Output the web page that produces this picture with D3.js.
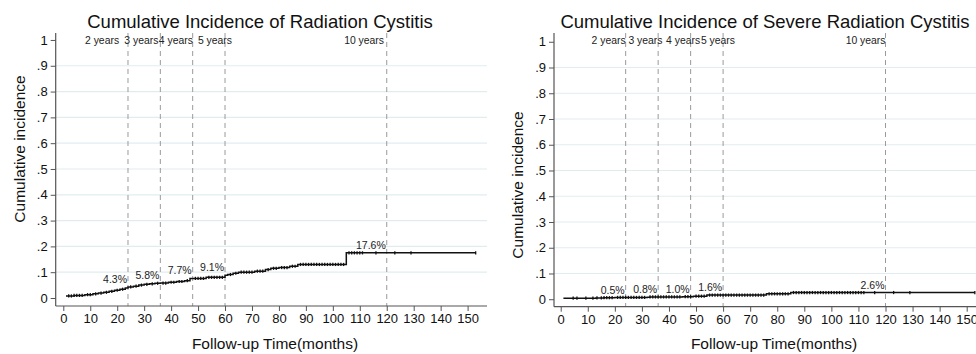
<!DOCTYPE html>
<html>
<head>
<meta charset="utf-8">
<script src="https://cdn.jsdelivr.net/npm/d3@7"></script>
<style>
  body { margin: 0; background: #fff; }
  svg { display: block; font-family: "Liberation Sans", Arial, Helvetica, sans-serif; }
</style>
</head>
<body>
<div class="chart"></div>
<script>
// ---- data ----
var xTicks = [0, 10, 20, 30, 40, 50, 60, 70, 80, 90, 100, 110, 120, 130, 140, 150];
var yTicks = [0, 0.1, 0.2, 0.3, 0.4, 0.5, 0.6, 0.7, 0.8, 0.9, 1];
var yTickLabels = ["0", ".1", ".2", ".3", ".4", ".5", ".6", ".7", ".8", ".9", "1"];
var milestones = [24, 36, 48, 60, 120];
var yearLabels = ["2 years", "3 years", "4 years", "5 years", "10 years"];

// radiation cystitis (any grade)
var radTitle = "Cumulative Incidence of Radiation Cystitis";
var radTimes = [1, 4, 8, 11, 13, 15, 17, 19, 21, 23, 24, 26, 28, 30, 32, 34, 36, 39, 42, 45, 47, 53, 60, 61, 63, 65, 71, 75, 77, 80, 84, 87, 105, 153];
var radCIF = [0.008, 0.010, 0.013, 0.016, 0.019, 0.022, 0.026, 0.030, 0.034, 0.039, 0.043, 0.046, 0.050, 0.053, 0.055, 0.057, 0.058, 0.061, 0.064, 0.067, 0.076, 0.080, 0.088, 0.091, 0.096, 0.100, 0.104, 0.110, 0.115, 0.118, 0.123, 0.130, 0.175, 0.175];
var radCensor = [2, 3, 4, 5, 6, 7, 9, 10, 12, 14, 16, 18, 20, 22, 25, 27, 29, 31, 33, 35, 37, 38, 40, 41, 43, 44, 46, 49, 50, 51, 52, 54, 55, 56, 57, 58, 59, 62, 64, 66, 67, 68, 69, 70, 72, 73, 74, 76, 78, 79, 81, 82, 83, 85, 86, 88, 89, 90, 91, 92, 93, 94, 95, 96, 97, 98, 99, 100, 101, 102, 103, 104, 106, 107, 108, 109, 110, 111, 116, 123, 129, 153];
var radPct = ["4.3%", "5.8%", "7.7%", "9.1%", "17.6%"];
var radPctValue = [0.043, 0.058, 0.077, 0.091, 0.176];
var radYearAt = [20.7, 35.3, 48.1, 62.6, 119];

// severe radiation cystitis
var sevTitle = "Cumulative Incidence of Severe Radiation Cystitis";
var sevTimes = [1, 13, 16, 20, 32, 33, 45, 49, 54, 76, 85, 153];
var sevCIF = [0.004, 0.005, 0.006, 0.007, 0.008, 0.009, 0.010, 0.012, 0.016, 0.021, 0.026, 0.026];
var sevCensor = [4.6, 6, 9.3, 11.9, 13.4, 15, 16, 17, 18, 19, 21, 22, 23, 24, 25, 26, 27, 28, 29, 30, 31, 33, 34, 35, 36, 37, 38, 39, 40, 41, 42, 43, 44, 46, 47, 48, 50, 51, 52, 53, 55, 56, 57, 58, 59, 60, 61, 62, 63, 64, 65, 66, 67, 68, 69, 70, 71, 72, 73, 74, 75, 77, 78, 79, 80, 81, 82, 83, 84, 86, 87, 88, 89, 90, 91, 92, 93, 94, 95, 96, 97, 98, 99, 100, 101, 102, 103, 104, 105, 106, 107, 108, 109, 110, 111, 112, 116, 123, 129, 153];
var sevPct = ["0.5%", "0.8%", "1.0%", "1.6%", "2.6%"];
var sevPctValue = [0.005, 0.008, 0.010, 0.016, 0.026];
var sevYearAt = [24, 37.6, 51.5, 64.4, 120];

var W = 976, H = 354;
var svg = d3.select(".chart").append("svg").attr("width", W).attr("height", H);

function drawPanel(p) {
  var x = d3.scaleLinear().domain(p.xdom).range([p.left, p.right]);
  var y = d3.scaleLinear().domain(p.ydom).range([p.bottom, p.top]);
  var g = svg.append("g");

  // gridlines
  g.selectAll(".grid")
    .data(yTicks.filter(function(d) { return d > 0 && d < 1; }))
    .enter().append("line")
    .attr("x1", p.left).attr("x2", p.right)
    .attr("y1", function(d) { return y(d); }).attr("y2", function(d) { return y(d); })
    .attr("stroke", "#e1ecef").attr("stroke-width", 1.2);

  // milestone dashed lines
  g.selectAll(".ms")
    .data(milestones)
    .enter().append("line")
    .attr("x1", function(d) { return x(d); }).attr("x2", function(d) { return x(d); })
    .attr("y1", p.top).attr("y2", p.bottom)
    .attr("stroke", "#9a9a9a").attr("stroke-width", 1)
    .attr("stroke-dasharray", "5,4");

  // year labels
  g.selectAll(".yr")
    .data(yearLabels)
    .enter().append("text")
    .attr("x", function(d, i) { return x(p.yearAt[i]); })
    .attr("y", p.top + 11)
    .attr("text-anchor", "end")
    .attr("font-size", "10.4px")
    .attr("fill", "#222")
    .text(function(d) { return d; });

  // axes
  var yAxis = d3.axisLeft(y).tickValues(yTicks)
    .tickFormat(function(d, i) { return yTickLabels[i]; })
    .tickSize(5).tickPadding(3);
  var xAxis = d3.axisBottom(x).tickValues(xTicks).tickSize(5).tickPadding(3);

  var ya = g.append("g").attr("transform", "translate(" + p.left + ",0)").call(yAxis);
  var xa = g.append("g").attr("transform", "translate(0," + p.bottom + ")").call(xAxis);
  [ya, xa].forEach(function(a) {
    a.select(".domain").attr("stroke", "#555").attr("stroke-width", 1.2);
    a.selectAll(".tick line").attr("stroke", "#555");
    a.selectAll("text").attr("font-size", "13px").attr("fill", "#111")
      .style("font-family", "'Liberation Sans', Arial, sans-serif");
  });
  ya.select(".domain").attr("d", "M0," + p.top + "V" + p.bottom);
  xa.select(".domain").attr("d", "M" + p.left + ",0H" + p.right);

  // step curve
  var pts = p.times.map(function(t, i) { return [t, p.cif[i]]; });
  var line = d3.line()
    .x(function(d) { return x(d[0]); })
    .y(function(d) { return y(d[1]); })
    .curve(d3.curveStepAfter);
  g.append("path")
    .attr("d", line(pts))
    .attr("fill", "none")
    .attr("stroke", "#111")
    .attr("stroke-width", 1.5);

  // censor marks
  var bis = d3.bisector(function(d) { return d; }).right;
  function valAt(t) {
    var i = bis(p.times, t) - 1;
    return p.cif[Math.max(0, i)];
  }
  g.selectAll(".cens")
    .data(p.censor)
    .enter().append("line")
    .attr("x1", function(d) { return x(d); }).attr("x2", function(d) { return x(d); })
    .attr("y1", function(d) { return y(valAt(d)) - 1.6; })
    .attr("y2", function(d) { return y(valAt(d)) + 1.6; })
    .attr("stroke", "#111").attr("stroke-width", 1.3);

  // percent labels
  g.selectAll(".pct")
    .data(p.pct)
    .enter().append("text")
    .attr("x", function(d, i) { return x(milestones[i]) - 1; })
    .attr("y", function(d, i) { return y(p.pctValue[i]) - 4; })
    .attr("text-anchor", "end")
    .attr("font-size", "10.5px")
    .attr("fill", "#222")
    .text(function(d) { return d; });

  // titles
  g.append("text")
    .attr("x", p.titleX).attr("y", 27.5)
    .attr("text-anchor", "middle")
    .attr("font-size", "18.5px")
    .attr("fill", "#111")
    .text(p.title);

  g.append("text")
    .attr("x", p.xLabelX).attr("y", 349)
    .attr("text-anchor", "middle")
    .attr("font-size", "15.5px")
    .attr("fill", "#111")
    .text("Follow-up Time(months)");

  g.append("text")
    .attr("transform", "translate(" + p.yLabelX + "," + p.yLabelY + ") rotate(-90)")
    .attr("text-anchor", "middle")
    .attr("font-size", "15.5px")
    .attr("fill", "#111")
    .text("Cumulative incidence");
}

drawPanel({
  left: 55.7, right: 487, top: 33, bottom: 306,
  xdom: [-2.82, 157.2], ydom: [-0.031, 1.027],
  times: radTimes, cif: radCIF, censor: radCensor,
  pct: radPct, pctValue: radPctValue, yearAt: radYearAt,
  title: radTitle, titleX: 260, xLabelX: 275, yLabelX: 25, yLabelY: 149
});

drawPanel({
  left: 554, right: 987, top: 33, bottom: 306.7,
  xdom: [-2.48, 157.5], ydom: [-0.029, 1.034],
  times: sevTimes, cif: sevCIF, censor: sevCensor,
  pct: sevPct, pctValue: sevPctValue, yearAt: sevYearAt,
  title: sevTitle, titleX: 765, xLabelX: 774, yLabelX: 523, yLabelY: 185
});
</script>
</body>
</html>
